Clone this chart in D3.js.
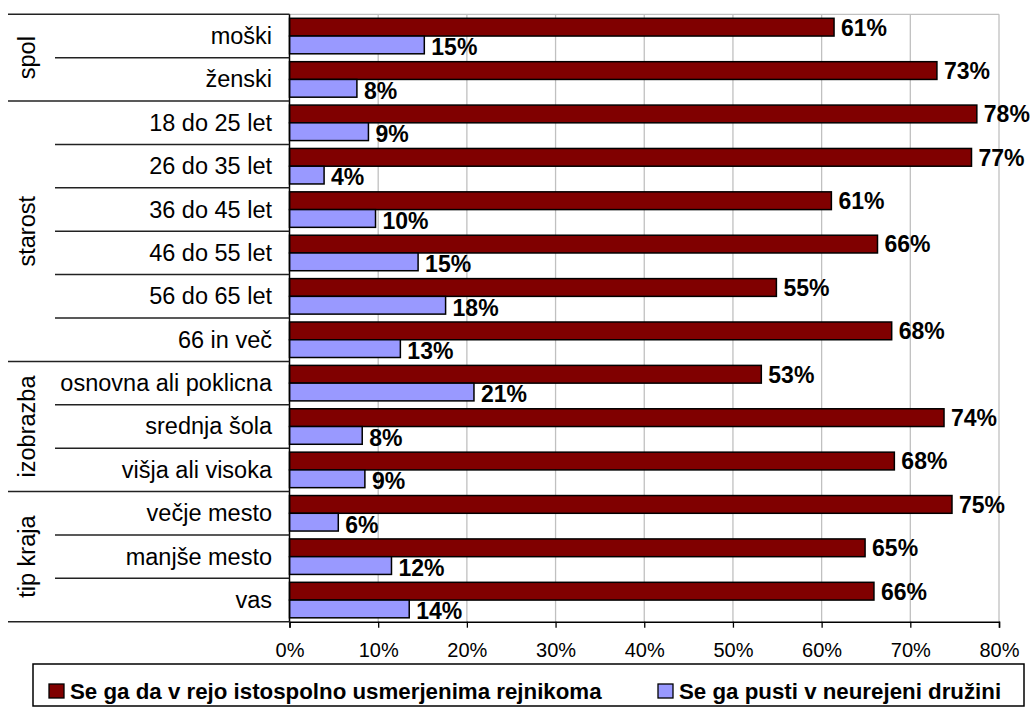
<!DOCTYPE html>
<html>
<head>
<meta charset="utf-8">
<script src="https://cdn.jsdelivr.net/npm/d3@7"></script>
<style>
  body { margin: 0; background: #fff; }
  svg { display: block; font-family: Arial, "Liberation Sans", sans-serif; }
</style>
</head>
<body>
<div class="chart"></div>
<script>
const categories = ['moški', 'ženski', '18 do 25 let', '26 do 35 let', '36 do 45 let', '46 do 55 let',
    '56 do 65 let', '66 in več', 'osnovna ali poklicna', 'srednja šola', 'višja ali visoka',
    'večje mesto', 'manjše mesto', 'vas'];
const groupNames = ['spol', 'starost', 'izobrazba', 'tip kraja'];
const groupSizes = [2, 6, 3, 3];
const seriesNames = ['Se ga da v rejo istospolno usmerjenima rejnikoma', 'Se ga pusti v neurejeni družini'];
const fosterValues = [61.4, 73.0, 77.5, 76.9, 61.1, 66.3, 54.9, 67.9, 53.2, 73.8, 68.2, 74.7, 64.9, 65.9];
const familyValues = [15.2, 7.6, 8.9, 3.9, 9.7, 14.5, 17.6, 12.5, 20.8, 8.2, 8.5, 5.5, 11.5, 13.5];
const xTicks = [0, 10, 20, 30, 40, 50, 60, 70, 80];

const width = 1034;
const height = 711;
const colors = ['#800000', '#9999ff'];

const x = d3.scaleLinear().domain([0, 80]).range([289.5, 999]);
const y = d3.scaleBand().domain(categories).range([14.3, 621.7]);
const inner = d3.scaleBand().domain([0, 1]).range([4, 39.5]);

const svg = d3.select('.chart').append('svg')
    .attr('width', width)
    .attr('height', height);

// gridlines + top border
svg.append('g').selectAll('line').data(xTicks.slice(1)).join('line')
    .attr('x1', d => x(d)).attr('x2', d => x(d))
    .attr('y1', y.range()[0]).attr('y2', y.range()[1])
    .attr('stroke', '#c0c0c0').attr('stroke-width', 1.3);
svg.append('line')
    .attr('x1', x(0)).attr('x2', x(80))
    .attr('y1', y.range()[0]).attr('y2', y.range()[0])
    .attr('stroke', '#c0c0c0').attr('stroke-width', 1.3);

// bars
const rows = categories.map((c, i) => ({ cat: c, vals: [fosterValues[i], familyValues[i]] }));
const row = svg.append('g').selectAll('g').data(rows).join('g')
    .attr('transform', d => `translate(0,${y(d.cat)})`);

row.selectAll('rect').data(d => d.vals).join('rect')
    .attr('x', x(0))
    .attr('y', (d, i) => inner(i))
    .attr('width', d => x(d) - x(0))
    .attr('height', inner.bandwidth())
    .attr('fill', (d, i) => colors[i])
    .attr('stroke', '#000')
    .attr('stroke-width', 1.5);

row.selectAll('text').data(d => d.vals).join('text')
    .attr('x', d => x(d) + 7)
    .attr('y', (d, i) => inner(i) + inner.bandwidth() + (i === 0 ? -0.5 : 1.5))
    .attr('font-size', 23)
    .attr('font-weight', 'bold')
    .text(d => Math.round(d) + '%');

// axes lines
svg.append('line')
    .attr('x1', x(0)).attr('x2', x(0))
    .attr('y1', y.range()[0]).attr('y2', y.range()[1])
    .attr('stroke', '#000').attr('stroke-width', 1.5);

const xAxis = svg.append('g').attr('transform', `translate(0,${y.range()[1]})`)
    .call(d3.axisBottom(x).tickValues(xTicks).tickFormat(d => d + '%').tickSize(6).tickPadding(15));
xAxis.select('.domain').attr('stroke', '#000').attr('stroke-width', 1.5);
xAxis.selectAll('.tick line').attr('stroke', '#000').attr('stroke-width', 1.3);
xAxis.selectAll('text').attr('font-size', 20).attr('fill', '#000').attr('font-family', 'Arial, "Liberation Sans", sans-serif');

// category labels
svg.append('g').selectAll('text').data(categories).join('text')
    .attr('x', 272)
    .attr('y', d => y(d) + y.bandwidth() / 2 + 8)
    .attr('text-anchor', 'end')
    .attr('font-size', 23.5)
    .text(d => d);

// separators
const groupStarts = groupSizes.map((s, i) => d3.sum(groupSizes.slice(0, i)));
const boundaries = d3.range(categories.length + 1).map(i => ({
    i: i,
    major: i === categories.length || groupStarts.includes(i)
}));
svg.append('g').selectAll('line').data(boundaries).join('line')
    .attr('x1', d => d.major ? 8 : 55)
    .attr('x2', x(0))
    .attr('y1', d => d.i < categories.length ? y(categories[d.i]) : y.range()[1])
    .attr('y2', d => d.i < categories.length ? y(categories[d.i]) : y.range()[1])
    .attr('stroke', '#222').attr('stroke-width', 1.5);

// group labels
svg.append('g').selectAll('text').data(groupNames).join('text')
    .attr('transform', (d, i) => {
        const top = y(categories[groupStarts[i]]);
        const cy = top + groupSizes[i] * y.bandwidth() / 2;
        return `translate(35,${cy}) rotate(-90)`;
    })
    .attr('text-anchor', 'middle')
    .attr('font-size', 23.5)
    .text(d => d);

// legend
const legend = svg.append('g');
legend.append('rect')
    .attr('x', 33).attr('y', 664)
    .attr('width', 991).attr('height', 42)
    .attr('fill', '#fff').attr('stroke', '#000').attr('stroke-width', 1.5);
const legendX = [49, 658];
const item = legend.selectAll('g.item').data(seriesNames).join('g')
    .attr('class', 'item')
    .attr('transform', (d, i) => `translate(${legendX[i]},684)`);
item.append('rect')
    .attr('width', 15).attr('height', 14)
    .attr('fill', (d, i) => colors[i])
    .attr('stroke', '#000').attr('stroke-width', 1.3);
item.append('text')
    .attr('x', 21).attr('y', 14.5)
    .attr('font-size', 22.3)
    .attr('font-weight', 'bold')
    .text(d => d);
</script>
</body>
</html>
